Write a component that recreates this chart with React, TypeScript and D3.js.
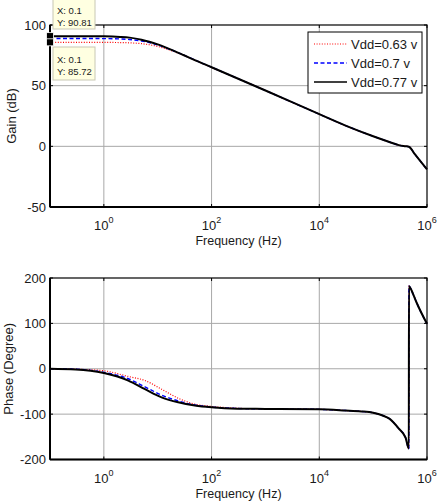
import React, { useRef, useEffect } from 'react';
import * as d3 from 'd3';

const W = 439;
const H = 503;

// Frequency samples (Hz) for the magnitude curves
const gainFreq = [0.1, 0.3, 1, 2, 3, 5, 7, 10, 20, 30, 50, 100, 1e3, 1e4, 3e4, 1e5, 2e5, 3e5, 4e5, 4.6e5, 6e5, 8e5, 1e6];
const gainVdd063 = [85.72, 85.71, 85.67, 85.52, 85.31, 84.6, 83.74, 82.33, 78.14, 75.06, 70.87, 65.1, 46.0, 26.5, 17.3, 8.3, 3.6, 1.0, 0.1, -0.3, -6.7, -13.6, -19];
const gainVdd070 = [88.9, 88.88, 88.79, 88.49, 88.07, 86.83, 85.48, 83.53, 78.58, 75.29, 70.98, 65.2, 46.0, 26.5, 17.3, 8.3, 3.6, 1.0, 0.1, -0.3, -6.7, -13.6, -19];
const gainVdd077 = [90.81, 90.79, 90.64, 90.2, 89.6, 87.9, 86.2, 84.0, 78.7, 75.3, 70.9, 65.2, 46.0, 26.5, 17.3, 8.3, 3.6, 1.0, 0.1, -0.3, -6.7, -13.6, -19];

// Frequency samples (Hz) for the phase curves
const phaseFreq = [0.1, 0.3, 1, 2.85, 5.8, 11.8, 24, 49, 100, 300, 1e3, 1e4, 3e4, 6e4, 1e5, 1.5e5, 2e5, 3e5, 4e5, 4.6e5, 4.62e5, 5.5e5, 6.4e5, 1e6];
const phaseVdd063 = [0, -1, -4.5, -17, -26, -45, -65, -78, -83, -87, -88.5, -89.5, -92, -94, -97, -103, -110, -132, -152, -176, 182, 165, 146, 99];
const phaseVdd070 = [0, -1, -8, -22, -40, -58, -71, -80, -84.5, -87.5, -88.5, -89.5, -92, -94, -97, -103, -110, -132, -152, -176, 182, 165, 146, 99];
const phaseVdd077 = [0, -1.5, -9.5, -26, -45, -63, -74, -81, -85, -88, -88.5, -89.5, -92, -94, -97, -103, -110, -132, -152, -176, 182, 165, 146, 99];

const seriesNames = ['Vdd=0.63 v', 'Vdd=0.7 v', 'Vdd=0.77 v'];
const xTickExps = [0, 2, 4, 6];
const gainTicks = [-50, 0, 50, 100];
const phaseTicks = [-200, -100, 0, 100, 200];

const lineStyles = [
  { color: '#ff0000', width: 1.2, dash: '1,1.6' },
  { color: '#0000ff', width: 1.4, dash: '4,2.5' },
  { color: '#000000', width: 2, dash: null as string | null },
];

const FONT = "Arial, 'Liberation Sans', sans-serif";
const TEXT = '#1a1a1a';

const App: React.FC = () => {
  const svgRef = useRef<SVGSVGElement | null>(null);

  useEffect(() => {
    if (!svgRef.current) return;
    const svg = d3.select(svgRef.current);
    svg.selectAll('*').remove();

    svg.append('rect').attr('width', W).attr('height', H).attr('fill', '#fff');

    const left = 50;
    const right = 427;
    const x = d3.scaleLog().domain([0.1, 1e6]).range([left, right]);

    const drawPanel = (
      top: number,
      bottom: number,
      yDomain: [number, number],
      yTicks: number[],
      yLabel: string,
      yLabelX: number,
      freq: number[],
      series: number[][]
    ) => {
      const y = d3.scaleLinear().domain(yDomain).range([bottom, top]);
      const g = svg.append('g');

      // grid
      xTickExps.forEach(e => {
        const px = x(Math.pow(10, e));
        if (px < right - 1) {
          g.append('line')
            .attr('x1', px).attr('x2', px).attr('y1', top).attr('y2', bottom)
            .attr('stroke', '#a8a8a8').attr('stroke-width', 1);
        }
      });
      yTicks.forEach(t => {
        const py = y(t);
        if (py > top + 1 && py < bottom - 1) {
          g.append('line')
            .attr('x1', left).attr('x2', right).attr('y1', py).attr('y2', py)
            .attr('stroke', '#a8a8a8').attr('stroke-width', 1);
        }
      });

      // curves
      series.forEach((vals, i) => {
        const s = lineStyles[i];
        const line = d3.line<number>()
          .x((_, j) => x(freq[j]))
          .y(d => y(d))
          .curve(d3.curveMonotoneX);
        g.append('path')
          .datum(vals)
          .attr('fill', 'none')
          .attr('stroke', s.color)
          .attr('stroke-width', s.width)
          .attr('stroke-dasharray', s.dash)
          .attr('stroke-linejoin', 'round')
          .attr('d', line);
      });

      // box + inner ticks
      g.append('rect')
        .attr('x', left).attr('y', top)
        .attr('width', right - left).attr('height', bottom - top)
        .attr('fill', 'none').attr('stroke', '#000').attr('stroke-width', 1.2);
      g.append('line').attr('x1', left).attr('x2', left).attr('y1', top).attr('y2', bottom)
        .attr('stroke', '#000').attr('stroke-width', 2);
      g.append('line').attr('x1', left).attr('x2', right).attr('y1', bottom).attr('y2', bottom)
        .attr('stroke', '#000').attr('stroke-width', 2);

      xTickExps.forEach(e => {
        const px = x(Math.pow(10, e));
        g.append('line').attr('x1', px).attr('x2', px).attr('y1', top).attr('y2', top + 3)
          .attr('stroke', '#000');
        g.append('line').attr('x1', px).attr('x2', px).attr('y1', bottom).attr('y2', bottom - 3)
          .attr('stroke', '#000');
        const label = g.append('text')
          .attr('x', px).attr('y', bottom + 23)
          .attr('text-anchor', 'middle')
          .attr('font-family', FONT).attr('font-size', 13).attr('fill', TEXT);
        label.append('tspan').text('10');
        label.append('tspan').attr('dy', -7).attr('font-size', 9).text(String(e));
      });

      yTicks.forEach(t => {
        const py = y(t);
        g.append('line').attr('x1', left).attr('x2', left + 3).attr('y1', py).attr('y2', py)
          .attr('stroke', '#000');
        g.append('line').attr('x1', right).attr('x2', right - 3).attr('y1', py).attr('y2', py)
          .attr('stroke', '#000');
        g.append('text')
          .attr('x', left - 4).attr('y', py + 4.5)
          .attr('text-anchor', 'end')
          .attr('font-family', FONT).attr('font-size', 13).attr('fill', TEXT)
          .text(String(t));
      });

      g.append('text')
        .attr('x', (left + right) / 2).attr('y', bottom + 38)
        .attr('text-anchor', 'middle')
        .attr('font-family', FONT).attr('font-size', 12.5).attr('fill', TEXT)
        .text('Frequency (Hz)');

      g.append('text')
        .attr('transform', `translate(${yLabelX},${(top + bottom) / 2}) rotate(-90)`)
        .attr('text-anchor', 'middle')
        .attr('font-family', FONT).attr('font-size', 13).attr('fill', TEXT)
        .text(yLabel);

      return y;
    };

    const yGain = drawPanel(25, 207, [-50, 100], gainTicks, 'Gain (dB)', 16, gainFreq,
      [gainVdd063, gainVdd070, gainVdd077]);
    drawPanel(278, 459.5, [-200, 200], phaseTicks, 'Phase (Degree)', 12.5, phaseFreq,
      [phaseVdd063, phaseVdd070, phaseVdd077]);

    // legend
    const lg = svg.append('g');
    lg.append('rect')
      .attr('x', 308).attr('y', 32).attr('width', 114).attr('height', 61)
      .attr('fill', '#fff').attr('stroke', '#000').attr('stroke-width', 1);
    seriesNames.forEach((name, i) => {
      const s = lineStyles[i];
      const ly = 44 + i * 19;
      lg.append('line')
        .attr('x1', 314).attr('x2', 347).attr('y1', ly).attr('y2', ly)
        .attr('stroke', s.color).attr('stroke-width', s.width === 2 ? 1.6 : s.width)
        .attr('stroke-dasharray', s.dash);
      lg.append('text')
        .attr('x', 351).attr('y', ly + 4.5)
        .attr('font-family', FONT).attr('font-size', 13).attr('fill', TEXT)
        .text(name);
    });

    // data tips at the first sample of the highest and lowest gain curves
    const tips = [
      { value: gainVdd077[0], box: [53, -2, 42, 31] },
      { value: gainVdd063[0], box: [53, 47, 42, 33] },
    ];
    tips.forEach(tip => {
      const [bx, by, bw, bh] = tip.box;
      svg.append('rect')
        .attr('x', bx).attr('y', by).attr('width', bw).attr('height', bh)
        .attr('fill', '#ffffe1').attr('stroke', '#c8c8b4').attr('stroke-width', 1);
      svg.append('text')
        .attr('x', bx + 4).attr('y', by + 16)
        .attr('font-family', FONT).attr('font-size', 9.5).attr('fill', TEXT)
        .text(`X: ${gainFreq[0]}`);
      svg.append('text')
        .attr('x', bx + 4).attr('y', by + 28)
        .attr('font-family', FONT).attr('font-size', 9.5).attr('fill', TEXT)
        .text(`Y: ${tip.value.toFixed(2)}`);
    });
    tips.forEach(tip => {
      svg.append('rect')
        .attr('x', x(gainFreq[0]) - 3.5).attr('y', yGain(tip.value) - 3.5)
        .attr('width', 7).attr('height', 7)
        .attr('fill', '#000').attr('stroke', '#fff').attr('stroke-width', 0.8);
    });
  }, []);

  return (
    <svg
      ref={svgRef}
      width={W}
      height={H}
      style={{ position: 'absolute', left: 0, top: 0, display: 'block' }}
    />
  );
};

export default App;
